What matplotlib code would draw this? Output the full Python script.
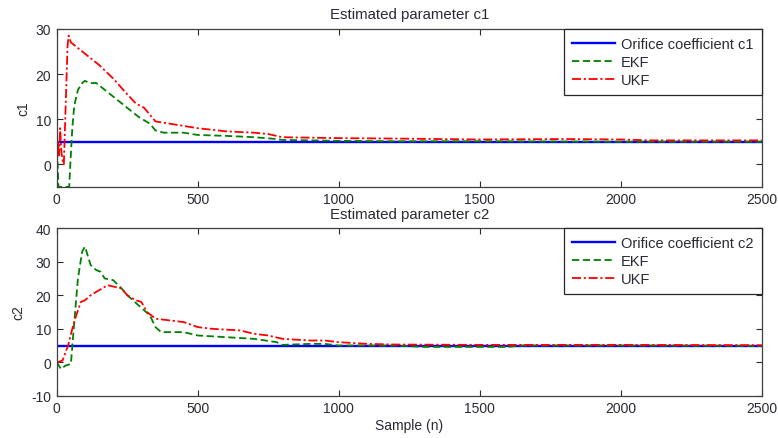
import numpy as np
import matplotlib.pyplot as plt

# values
true_c1 = 5.0
true_c2 = 5.0

ekf_c1_x = [0, 3, 6, 44, 48, 55, 62, 75, 90, 100, 115, 140, 170, 200, 250, 290, 330, 350, 380,
            450, 500, 600, 700, 780, 800, 900, 1000, 1200, 1500, 2000, 2500]
ekf_c1_y = [3, 0, -5, -5, 0, 8, 13, 16.5, 18, 18.5, 18, 18, 16.5, 15, 12.5, 10.5, 9, 7.5, 7,
            7, 6.5, 6.3, 6, 5.6, 5.4, 5.3, 5.2, 5.1, 5.1, 5.0, 5.0]

ukf_c1_x = [0, 5, 8, 12, 16, 20, 25, 30, 38, 42, 50, 80, 150, 200, 250, 280, 310, 330, 350, 400,
            500, 600, 700, 750, 800, 1000, 1200, 1500, 1800, 2000, 2100, 2500]
ukf_c1_y = [0, 5, 2, 8, 3, 1, 0, 10, 26, 28.5, 27, 25.5, 22, 19, 15.5, 13.5, 12.5, 11, 9.5, 9,
            8, 7.3, 7, 6.7, 6, 5.8, 5.7, 5.5, 5.6, 5.5, 5.3, 5.3]

ekf_c2_x = [0, 15, 30, 50, 60, 75, 90, 100, 120, 140, 155, 170, 200, 230, 250, 290, 330, 350, 370,
            450, 500, 600, 700, 780, 800, 900, 950, 1000, 1200, 1300, 1600, 1650, 2000, 2500]
ekf_c2_y = [0, -2, -1, -0.5, 10, 25, 33, 34.5, 29, 27.5, 27, 25, 24.5, 22, 20, 17, 14, 10.5, 9,
            9, 8, 7.5, 7, 6, 5.2, 5.5, 5.5, 5.0, 5.0, 4.6, 4.6, 5.0, 5.0, 4.9]

ukf_c2_x = [0, 20, 40, 55, 65, 85, 100, 120, 140, 170, 180, 230, 250, 280, 300, 320, 350, 400,
            450, 500, 550, 650, 700, 750, 800, 900, 950, 1000, 1100, 1200, 1500, 2000, 2500]
ukf_c2_y = [0, 0.5, 5, 10, 13, 18, 18.5, 20, 21, 22.5, 23, 22, 20, 18.5, 18, 15, 13, 12.5,
            12, 10.5, 10, 9.5, 8.5, 8, 7, 6.5, 6.5, 6, 5.5, 5.3, 5.2, 5.2, 5.1]

plt.rcParams['font.family'] = ['Liberation Sans', 'DejaVu Sans']
plt.rcParams['font.size'] = 10
plt.rcParams['axes.unicode_minus'] = False
txt = '#2a2a35'
plt.rcParams['text.color'] = txt
plt.rcParams['axes.labelcolor'] = txt
plt.rcParams['xtick.color'] = txt
plt.rcParams['ytick.color'] = txt

fig = plt.figure(figsize=(7.78, 4.39), dpi=100)
# axes boxes in figure fractions (pixels: top 30-188, bottom 229-397, x 57-762)
ax1 = fig.add_axes([0.073, 0.572, 0.906, 0.360])
ax2 = fig.add_axes([0.073, 0.096, 0.906, 0.382])

panels = [
    (ax1, 'c1', true_c1, ekf_c1_x, ekf_c1_y, ukf_c1_x, ukf_c1_y, (-5, 30), [0, 10, 20, 30]),
    (ax2, 'c2', true_c2, ekf_c2_x, ekf_c2_y, ukf_c2_x, ukf_c2_y, (-10, 40), [-10, 0, 10, 20, 30, 40]),
]

for ax, name, true_val, ex, ey, ux, uy, ylim, yticks in panels:
    ax.plot([0, 2500], [true_val, true_val], color='#0000ff', lw=1.7,
            label='Orifice coefficient ' + name)
    ax.plot(ex, ey, color='#008000', lw=1.3, ls=(0, (4, 2)), label='EKF')
    ax.plot(ux, uy, color='#ff0000', lw=1.3, ls=(0, (5, 1.5, 1.2, 1.5)), label='UKF')
    ax.set_xlim(0, 2500)
    ax.set_ylim(*ylim)
    ax.set_yticks(yticks)
    ax.set_xticks([0, 500, 1000, 1500, 2000, 2500])
    ax.set_ylabel(name, labelpad=4)
    ax.tick_params(direction='in', top=True, right=True, length=4, width=0.8, pad=4,
                   labelsize=10)
    for s in ax.spines.values():
        s.set_color('#404040')
        s.set_linewidth(0.9)
    leg = ax.legend(loc='upper right', fancybox=False, framealpha=1, edgecolor='#262626',
                    borderaxespad=0, handlelength=2.9, handletextpad=0.45, borderpad=0.55,
                    labelspacing=0.28, fontsize=10.5)
    leg.get_frame().set_linewidth(0.9)

ax1.set_title('Estimated parameter c1', fontsize=10.8, pad=8)
ax2.set_title('Estimated parameter c2', fontsize=10.8, pad=7)
ax2.set_xlabel('Sample (n)', labelpad=2)

fig.savefig('out.png', dpi=100)
